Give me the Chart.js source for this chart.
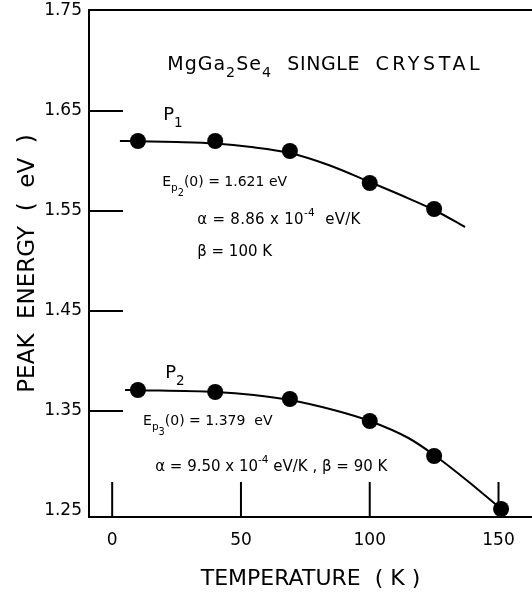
<!DOCTYPE html>
<html>
<head>
<meta charset="utf-8">
<script src="https://cdn.jsdelivr.net/npm/chart.js@4"></script>
<style>
  html, body { margin: 0; padding: 0; background: #fff; }
  canvas { display: block; }
</style>
</head>
<body>
<canvas id="peakChart" width="532" height="592"></canvas>
<script>
// --- data ---
const p1Temps = [10, 40, 69, 100, 125];
const p1Energy = [1.620, 1.620, 1.610, 1.578, 1.552];
const p2Temps = [10, 40, 69, 100, 125, 151];
const p2Energy = [1.371, 1.369, 1.362, 1.340, 1.305, 1.252];

// fitted curves
const p1FitTemps = [3, 10, 25, 40, 54, 69, 84, 100, 112, 125, 137];
const p1FitEnergy = [1.620, 1.6198, 1.619, 1.6175, 1.614, 1.608, 1.596, 1.579, 1.566, 1.551, 1.534];
const p2FitTemps = [5, 10, 40, 55, 69, 86, 100, 115, 125, 138, 151];
const p2FitEnergy = [1.371, 1.3708, 1.369, 1.366, 1.361, 1.351, 1.340, 1.323, 1.306, 1.280, 1.252];

const xTicks = [0, 50, 100, 150];
const yTicks = [1.25, 1.35, 1.45, 1.55, 1.65, 1.75];

// text on the plot: [text, level]  level 0 normal, 1 subscript, 2 lower subscript, -1 superscript
const notes = [
    { t: 21.4, e: 1.696, size: 19, ls: 1, parts: [['MgGa', 0], ['2', 1], ['Se', 0], ['4', 1]] },
    { t: 68.0, e: 1.696, size: 19, ls: 0.6, parts: [['SINGLE', 0]] },
    { t: 102.2, e: 1.696, size: 19, ls: 3.6, parts: [['CRYSTAL', 0]] },
    { t: 19.8, e: 1.646, size: 18, ls: 0, parts: [['P', 0], ['1', 1]] },
    { t: 19.4, e: 1.579, size: 14, ls: 0, parts: [['E', 0], ['p', 1], ['2', 2], ['(0) = 1.621 eV', 0]] },
    { t: 33, e: 1.541, size: 15, ls: 0.3, parts: [['\u03b1 = 8.86 x 10', 0], ['-4', -1], ['  eV/K', 0]] },
    { t: 33, e: 1.509, size: 15, ls: 0, parts: [['\u03b2 = 100 K', 0]] },
    { t: 20.6, e: 1.388, size: 18, ls: 0, parts: [['P', 0], ['2', 1]] },
    { t: 12, e: 1.340, size: 14, ls: 0, parts: [['E', 0], ['p', 1], ['3', 2], ['(0) = 1.379  eV', 0]] },
    { t: 16.7, e: 1.294, size: 15, ls: 0, parts: [['\u03b1 = 9.50 x 10', 0], ['-4', -1], [' eV/K , \u03b2 = 90 K', 0]] }
];

const FONT = "'DejaVu Sans', sans-serif";
Chart.defaults.font.family = FONT;
Chart.defaults.color = '#000';

const toXY = (xs, ys) => xs.map((x, i) => ({ x: x, y: ys[i] }));

// frame top line + inside tick marks
const framePlugin = {
    id: 'frame',
    beforeDatasetsDraw(chart) {
        const { ctx, chartArea: a, scales } = chart;
        ctx.save();
        ctx.strokeStyle = '#000';
        ctx.lineWidth = 2;
        ctx.beginPath();
        ctx.moveTo(a.left, a.top);
        ctx.lineTo(a.right, a.top);
        yTicks.forEach(v => {
            const py = scales.y.getPixelForValue(v);
            if (py - a.top < 10 || a.bottom - py < 10) return;
            ctx.moveTo(a.left, py);
            ctx.lineTo(a.left + 34, py);
        });
        xTicks.forEach(v => {
            const px = scales.x.getPixelForValue(v);
            ctx.moveTo(px, a.bottom);
            ctx.lineTo(px, a.bottom - 35);
        });
        ctx.stroke();
        ctx.restore();
    }
};

// annotations with sub / superscripts
const notesPlugin = {
    id: 'notes',
    afterDatasetsDraw(chart) {
        const { ctx, scales } = chart;
        ctx.save();
        ctx.fillStyle = '#000';
        ctx.textBaseline = 'middle';
        ctx.textAlign = 'left';
        notes.forEach(n => {
            let x = scales.x.getPixelForValue(n.t);
            const y = scales.y.getPixelForValue(n.e);
            ctx.letterSpacing = n.ls + 'px';
            n.parts.forEach(([txt, lvl]) => {
                let size = n.size, dy = 0;
                if (lvl === 1) { size = n.size * 0.75; dy = n.size * 0.45; }
                if (lvl === 2) { size = n.size * 0.7; dy = n.size * 0.85; }
                if (lvl === -1) { size = n.size * 0.7; dy = -n.size * 0.45; }
                ctx.font = size + 'px ' + FONT;
                ctx.fillText(txt, x, y + dy);
                x += ctx.measureText(txt).width;
            });
        });
        ctx.restore();
    }
};

new Chart(document.getElementById('peakChart').getContext('2d'), {
    type: 'scatter',
    data: {
        datasets: [
            {
                label: 'P1 fit',
                data: toXY(p1FitTemps, p1FitEnergy),
                showLine: true,
                borderColor: '#000',
                borderWidth: 2,
                pointRadius: 0,
                cubicInterpolationMode: 'monotone'
            },
            {
                label: 'P1',
                data: toXY(p1Temps, p1Energy),
                pointRadius: 8,
                pointBackgroundColor: '#000',
                pointBorderColor: '#000',
                pointBorderWidth: 0
            },
            {
                label: 'P2 fit',
                data: toXY(p2FitTemps, p2FitEnergy),
                showLine: true,
                borderColor: '#000',
                borderWidth: 2,
                pointRadius: 0,
                cubicInterpolationMode: 'monotone'
            },
            {
                label: 'P2',
                data: toXY(p2Temps, p2Energy),
                pointRadius: 8,
                pointBackgroundColor: '#000',
                pointBorderColor: '#000',
                pointBorderWidth: 0
            }
        ]
    },
    options: {
        responsive: false,
        animation: false,
        layout: { autoPadding: false, padding: { top: 10, right: 0, bottom: 0, left: 0 } },
        plugins: {
            legend: { display: false },
            tooltip: { enabled: false }
        },
        scales: {
            x: {
                type: 'linear',
                min: -9,
                max: 163,
                afterBuildTicks: s => { s.ticks = xTicks.map(v => ({ value: v })); },
                afterFit: s => { s.height = 75; s.paddingLeft = 0; s.paddingRight = 0; },
                grid: { display: false, drawTicks: false },
                border: { color: '#000', width: 2 },
                ticks: { font: { size: 17 }, color: '#000', padding: 13, maxRotation: 0 },
                title: {
                    display: true,
                    text: 'TEMPERATURE  ( K )',
                    font: { size: 22 },
                    color: '#000',
                    padding: { top: 0, bottom: 0 }
                }
            },
            y: {
                type: 'linear',
                min: 1.244,
                max: 1.751,
                afterBuildTicks: s => { s.ticks = yTicks.map(v => ({ value: v })); },
                afterFit: s => { s.width = 89; s.paddingTop = 0; s.paddingBottom = 0; },
                grid: { display: false, drawTicks: false },
                border: { color: '#000', width: 2 },
                ticks: {
                    font: { size: 17 },
                    color: '#000',
                    padding: 7,
                    callback: v => v.toFixed(2)
                },
                title: {
                    display: true,
                    text: 'PEAK  ENERGY  (  eV  )',
                    font: { size: 23 },
                    color: '#000',
                    padding: { top: 14, bottom: 0 }
                }
            }
        }
    },
    plugins: [framePlugin, notesPlugin]
});
</script>
</body>
</html>
